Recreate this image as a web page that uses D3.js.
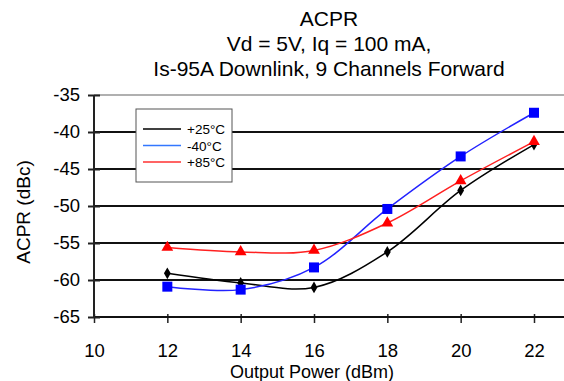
<!DOCTYPE html>
<html>
<head>
<meta charset="utf-8">
<script src="https://cdn.jsdelivr.net/npm/d3@7"></script>
<style>
  body { margin: 0; background: #fff; }
  text { font-family: "Liberation Sans", Arial, sans-serif; fill: #000; }
</style>
</head>
<body>
<div class="chart"></div>
<script>
var svgWidth = 564;
var svgHeight = 381;

var margin = { top: 95, right: 0, bottom: 64, left: 94 };

var width = svgWidth - margin.left - margin.right;
var height = svgHeight - margin.top - margin.bottom;

// data
var power = [12, 14, 16, 18, 20, 22];
var acpr25 = [-59.1, -60.4, -61.0, -56.2, -47.9, -41.7];
var acprM40 = [-60.9, -61.3, -58.3, -50.4, -43.3, -37.4];
var acpr85 = [-55.6, -56.2, -56.0, -52.3, -46.6, -41.3];

var xTicks = [10, 12, 14, 16, 18, 20, 22];
var yTicks = [-65, -60, -55, -50, -45, -40, -35];
var titleLines = ["ACPR", "Vd = 5V, Iq = 100 mA,", "Is-95A Downlink, 9 Channels Forward"];

var series = [
  { name: "+25°C", values: acpr25, color: "#000000", legendColor: "#000000", marker: "diamond" },
  { name: "-40°C", values: acprM40, color: "#2222ff", legendColor: "#3377ff", marker: "square" },
  { name: "+85°C", values: acpr85, color: "#ff2020", legendColor: "#ff3030", marker: "triangle" }
];

var svg = d3.select(".chart")
  .append("svg")
  .attr("width", svgWidth)
  .attr("height", svgHeight);

var chartGroup = svg.append("g")
  .attr("transform", `translate(${margin.left}, ${margin.top})`);

// x range runs past 22 to the right edge of the picture
var xScale = d3.scaleLinear()
  .domain([10, 10 + width / (440 / 12)])
  .range([0, width]);

var yScale = d3.scaleLinear()
  .domain([-65, -35])
  .range([height, 0]);

// horizontal gridlines
chartGroup.selectAll(".grid")
  .data(yTicks.filter(d => d > -65 && d < -35))
  .enter()
  .append("line")
  .attr("x1", 0)
  .attr("x2", width)
  .attr("y1", d => yScale(d))
  .attr("y2", d => yScale(d))
  .attr("stroke", "#111")
  .attr("stroke-width", 2);

// top border
chartGroup.append("line")
  .attr("x1", 0).attr("x2", width)
  .attr("y1", yScale(-35)).attr("y2", yScale(-35))
  .attr("stroke", "#b0b0b0")
  .attr("stroke-width", 2);

// axes
var bottomAxis = d3.axisBottom(xScale).tickValues(xTicks).tickSize(6).tickPadding(21)
  .tickFormat(d => String(d));
var leftAxis = d3.axisLeft(yScale).tickValues(yTicks).tickSize(6).tickPadding(8)
  .tickFormat(d => String(d));

var xAxis = chartGroup.append("g")
  .attr("transform", `translate(0, ${height})`)
  .call(bottomAxis);
xAxis.select(".domain").remove();
xAxis.selectAll("line").attr("y1", -3).attr("y2", 6).attr("stroke", "#222").attr("stroke-width", 1.5);
xAxis.append("line")
  .attr("x1", 0).attr("x2", width)
  .attr("stroke", "#111").attr("stroke-width", 2);

var yAxis = chartGroup.append("g").call(leftAxis);
yAxis.select(".domain").remove();
yAxis.selectAll("line").attr("x1", 6).attr("x2", -6).attr("stroke", "#222").attr("stroke-width", 2);
yAxis.append("line")
  .attr("y1", 0).attr("y2", height)
  .attr("stroke", "#222").attr("stroke-width", 2);

svg.selectAll(".tick text")
  .style("font-family", "'Liberation Sans', Arial, sans-serif")
  .style("font-size", "18.5px")
  .attr("fill", "#000");

// lines
var line = d3.line()
  .x((d, i) => xScale(power[i]))
  .y(d => yScale(d))
  .curve(d3.curveCatmullRom.alpha(0.5));

chartGroup.selectAll(".series")
  .data(series)
  .enter()
  .append("path")
  .attr("d", d => line(d.values))
  .attr("fill", "none")
  .attr("stroke", d => d.color)
  .attr("stroke-width", 1.5);

// markers
var symbolType = { diamond: d3.symbolDiamond, square: d3.symbolSquare, triangle: d3.symbolTriangle };
var symbolSize = { diamond: 40, square: 100, triangle: 60 };
var markerColor = { diamond: "#000", square: "#0000ff", triangle: "#ff0000" };

series.forEach(s => {
  chartGroup.selectAll(null)
    .data(s.values)
    .enter()
    .append("path")
    .attr("transform", (d, i) => `translate(${xScale(power[i])}, ${yScale(d)})`)
    .attr("d", d3.symbol().type(symbolType[s.marker]).size(symbolSize[s.marker]))
    .attr("fill", markerColor[s.marker]);
});

// legend
var legend = svg.append("g").attr("transform", "translate(136, 109)");
legend.append("rect")
  .attr("width", 96)
  .attr("height", 73)
  .attr("fill", "#fff")
  .attr("stroke", "#555")
  .attr("stroke-width", 1);

series.forEach((s, i) => {
  var y = 20 + i * 16.5;
  legend.append("line")
    .attr("x1", 7).attr("x2", 45)
    .attr("y1", y).attr("y2", y)
    .attr("stroke", s.legendColor)
    .attr("stroke-width", 1.5);
  legend.append("text")
    .attr("x", 51)
    .attr("y", y + 5)
    .style("font-size", "13.5px")
    .text(s.name);
});

// title
svg.append("g")
  .selectAll("text")
  .data(titleLines)
  .enter()
  .append("text")
  .attr("x", margin.left + width / 2)
  .attr("y", (d, i) => 26 + i * 25)
  .attr("text-anchor", "middle")
  .style("font-size", "21px")
  .text(d => d);

// axis titles
svg.append("text")
  .attr("x", 312)
  .attr("y", 378)
  .attr("text-anchor", "middle")
  .style("font-size", "18px")
  .text("Output Power (dBm)");

svg.append("text")
  .attr("transform", "rotate(-90)")
  .attr("x", -212)
  .attr("y", 30)
  .attr("text-anchor", "middle")
  .style("font-size", "19px")
  .text("ACPR (dBc)");
</script>
</body>
</html>
